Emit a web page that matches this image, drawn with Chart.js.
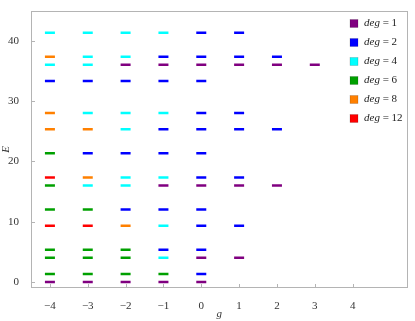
<!DOCTYPE html>
<html>
<head>
<meta charset="utf-8">
<script src="https://cdn.jsdelivr.net/npm/chart.js@4"></script>
<style>
  html, body { margin: 0; padding: 0; background: #fff; }
  #levels { display: block; }
</style>
</head>
<body>
<canvas id="levels" width="415" height="321"></canvas>
<script>
// energy levels E at coupling g, grouped by degeneracy
let deg_labels = ["1", "2", "4", "6", "8", "12"];
let deg_colors = ["#800080", "#0000ff", "#00ffff", "#00a000", "#ff8000", "#ff0000"];

let g_deg1 = [-4, -3, -2, -1, 0, 0, 1, -1, 0, 1, 2, -2, -1, 0, 1, 2, 3];
let e_deg1 = [0, 0, 0, 0, 0, 4, 4, 16, 16, 16, 16, 36, 36, 36, 36, 36, 36];

let g_deg2 = [0, -1, 0, 0, 1, -2, -1, 0, 0, 1, -3, -2, -1, 0, -1, 0, 1, 2, 0, 1, -4, -3, -2, -1, 0, -1, 0, 1, 2, 0, 1];
let e_deg2 = [1.33, 5.33, 5.33, 9.33, 9.33, 12, 12, 12, 17.33, 17.33, 21.33, 21.33, 21.33, 21.33, 25.33, 25.33, 25.33, 25.33, 28, 28, 33.33, 33.33, 33.33, 33.33, 33.33, 37.33, 37.33, 37.33, 37.33, 41.33, 41.33];

let g_deg4 = [-1, -1, -3, -2, -2, -1, -2, -3, -2, -1, -4, -3, -3, -2, -4, -3, -2, -1];
let e_deg4 = [4, 9.33, 16, 16, 17.33, 17.33, 25.33, 28, 28, 28, 36, 36, 37.33, 37.33, 41.33, 41.33, 41.33, 41.33];

let g_deg6 = [-4, -3, -2, -1, -4, -3, -2, -4, -3, -2, -4, -3, -4, -4];
let e_deg6 = [1.33, 1.33, 1.33, 1.33, 4, 4, 4, 5.33, 5.33, 5.33, 12, 12, 16, 21.33];

let g_deg8 = [-2, -3, -4, -3, -4, -4];
let e_deg8 = [9.33, 17.33, 25.33, 25.33, 28, 37.33];

let g_deg12 = [-4, -3, -4];
let e_deg12 = [9.33, 9.33, 17.33];

let x_ticks = [-4, -3, -2, -1, 0, 1, 2, 3, 4];
let y_ticks = [0, 10, 20, 30, 40];

let all_g = [g_deg1, g_deg2, g_deg4, g_deg6, g_deg8, g_deg12];
let all_e = [e_deg1, e_deg2, e_deg4, e_deg6, e_deg8, e_deg12];

const frame_color = "#b4b4b4";
const serif = "'Liberation Serif', 'DejaVu Serif', serif";

let datasets = deg_labels.map((d, i) => ({
  label: "deg = " + d,
  data: all_g[i].map((g, k) => ({ x: g, y: all_e[i][k] })),
  pointStyle: "line",
  pointRadius: 5,
  pointHoverRadius: 5,
  borderWidth: 2.5,
  borderColor: deg_colors[i],
  backgroundColor: deg_colors[i],
  showLine: false
}));

// frame box, inward ticks and the legend (Mathematica style)
const framePlugin = {
  id: "framePlugin",
  beforeDatasetsDraw(chart) {
    const ctx = chart.ctx;
    const a = chart.chartArea;
    const xs = chart.scales.x, ys = chart.scales.y;
    ctx.save();
    ctx.strokeStyle = frame_color;
    ctx.lineWidth = 1;
    ctx.strokeRect(Math.round(a.left) + 0.5, Math.round(a.top) + 0.5,
                   Math.round(a.right - a.left) - 1, Math.round(a.bottom - a.top) - 1);
    ctx.beginPath();
    y_ticks.forEach(v => {
      let py = Math.round(ys.getPixelForValue(v)) + 0.5;
      ctx.moveTo(a.left, py);
      ctx.lineTo(a.left + 4, py);
    });
    x_ticks.forEach(v => {
      let px = Math.round(xs.getPixelForValue(v)) + 0.5;
      ctx.moveTo(px, a.bottom);
      ctx.lineTo(px, a.bottom - 4);
    });
    ctx.stroke();
    ctx.restore();
  },
  afterDatasetsDraw(chart) {
    const ctx = chart.ctx;
    ctx.save();
    ctx.textBaseline = "middle";
    deg_labels.forEach((d, i) => {
      let cy = 23.5 + i * 19;
      ctx.fillStyle = deg_colors[i];
      ctx.fillRect(350, cy - 4, 8, 8);
      ctx.strokeStyle = "rgba(0,0,0,0.25)";
      ctx.lineWidth = 0.6;
      ctx.strokeRect(350, cy - 4, 8, 8);
      ctx.fillStyle = "#222";
      ctx.font = "italic 11px " + serif;
      ctx.fillText("deg", 364, cy);
      let w = ctx.measureText("deg").width;
      ctx.font = "11px " + serif;
      ctx.fillText(" = " + d, 364 + w, cy);
    });
    ctx.restore();
  }
};

new Chart("levels", {
  type: "scatter",
  data: { datasets: datasets },
  options: {
    responsive: false,
    animation: false,
    devicePixelRatio: 1,
    layout: { padding: { top: 1, right: 2, left: 0, bottom: 0 } },
    plugins: {
      legend: { display: false },
      tooltip: { enabled: false }
    },
    scales: {
      x: {
        type: "linear",
        min: -4.5,
        max: 5.45,
        afterBuildTicks: s => { s.ticks = x_ticks.map(v => ({ value: v })); },
        afterFit: s => { s.height = 33; },
        grid: { display: false },
        border: { display: false },
        ticks: {
          padding: 4,
          color: "#333",
          font: { family: serif, size: 11 },
          callback: v => (v < 0 ? "\u2212" + Math.abs(v) : String(v))
        },
        title: {
          display: true,
          text: "g",
          color: "#333",
          padding: { top: 0, bottom: 0 },
          font: { family: serif, size: 11, style: "italic" }
        }
      },
      y: {
        type: "linear",
        min: -1,
        max: 45,
        afterBuildTicks: s => { s.ticks = y_ticks.map(v => ({ value: v })); },
        afterFit: s => { s.width = 31; },
        grid: { display: false },
        border: { display: false },
        ticks: {
          padding: 4,
          color: "#333",
          font: { family: serif, size: 11 }
        },
        title: {
          display: true,
          text: "E",
          color: "#333",
          padding: { top: 0, bottom: 0 },
          font: { family: serif, size: 11, style: "italic" }
        }
      }
    }
  },
  plugins: [framePlugin]
});
</script>
</body>
</html>
